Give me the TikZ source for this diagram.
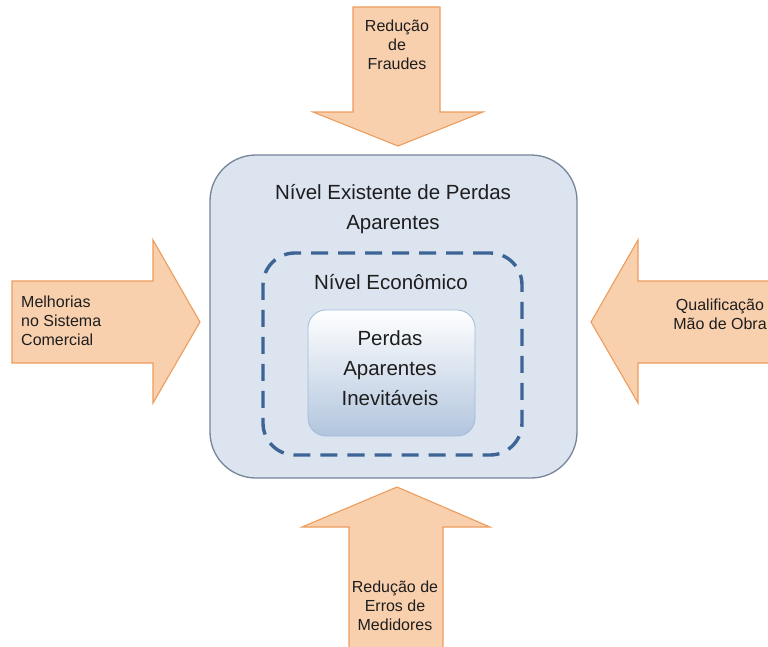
\documentclass[tikz,border=0pt]{standalone}
\usepackage{fontspec}
\setmainfont{Liberation Sans}
\begin{document}
\definecolor{arrowfill}{HTML}{F9D0AE}
\definecolor{arrowline}{HTML}{EE9C5C}
\definecolor{outerfill}{HTML}{DCE4F0}
\definecolor{outerline}{HTML}{76849A}
\definecolor{dashline}{HTML}{3C6495}
\definecolor{innerline}{HTML}{A3BAD8}
\definecolor{innerbottom}{HTML}{B2C5DE}
\definecolor{txt}{HTML}{1E1E1E}
\tikzset{
  bigarrow/.style={fill=arrowfill, draw=arrowline, line width=1.1pt, line join=miter},
  arrowtext/.style={text=txt, align=center, font=\fontsize{16}{19}\selectfont, inner sep=0pt},
  boxtext/.style={text=txt, align=center, font=\fontsize{20.5}{30}\selectfont, inner sep=0pt},
}
\begin{tikzpicture}[x=1pt,y=-1pt]
  \useasboundingbox (0,0) rectangle (768,646);
  \clip (0,0) rectangle (768,646);
  \fill[white] (0,0) rectangle (768,646);

  % outer region: existing level of apparent losses
  \node (outer) [fill=outerfill, draw=outerline, line width=1.3pt, rounded corners=46pt,
        minimum width=367pt, minimum height=323pt, inner sep=0pt] at (393.5,316.5) {};
  \node (outerlbl) [boxtext] at (393,209) {Nível Existente de Perdas\\Aparentes};

  % dashed region: economic level
  \node (econ) [draw=dashline, line width=3.4pt, dash pattern=on 17pt off 10pt,
        rounded corners=32pt, minimum width=259pt, minimum height=202pt, inner sep=0pt]
        at (392.5,354) {};
  \node (econlbl) [boxtext] at (391,282) {Nível Econômico};

  % inner region: unavoidable apparent losses
  \node (inner) [draw=innerline, line width=0.8pt, top color=white, bottom color=innerbottom,
        rounded corners=18pt, minimum width=167pt, minimum height=126pt, inner sep=0pt]
        at (391.5,373) {};
  \node (innerlbl) [boxtext] at (390,368) {Perdas\\Aparentes\\Inevitáveis};

  % top arrow
  \draw[bigarrow] (353,7) -- (440,7) -- (440,112) -- (483,112) -- (398,146)
        -- (313,112) -- (353,112) -- cycle;
  \node (top) [arrowtext] at (397,45) {Redução\\de\\Fraudes};

  % left arrow
  \draw[bigarrow] (12,281) -- (153,281) -- (153,240) -- (200,322) -- (153,403)
        -- (153,363) -- (12,363) -- cycle;
  \node (left) [arrowtext, align=left, anchor=west] at (21,321) {Melhorias\\no Sistema\\Comercial};

  % right arrow, running past the page edge
  \draw[bigarrow] (591,322) -- (638,240) -- (638,281) -- (790,281) -- (790,363)
        -- (638,363) -- (638,403) -- cycle;
  \node (right) [arrowtext] at (720,314) {Qualificação\\Mão de Obra};

  % bottom arrow
  \draw[bigarrow] (397,487) -- (490,527) -- (443,527) -- (443,660) -- (349,660)
        -- (349,527) -- (302,527) -- cycle;
  \node (bottom) [arrowtext] at (395,606) {Redução de\\Erros de\\Medidores};
\end{tikzpicture}
\end{document}
